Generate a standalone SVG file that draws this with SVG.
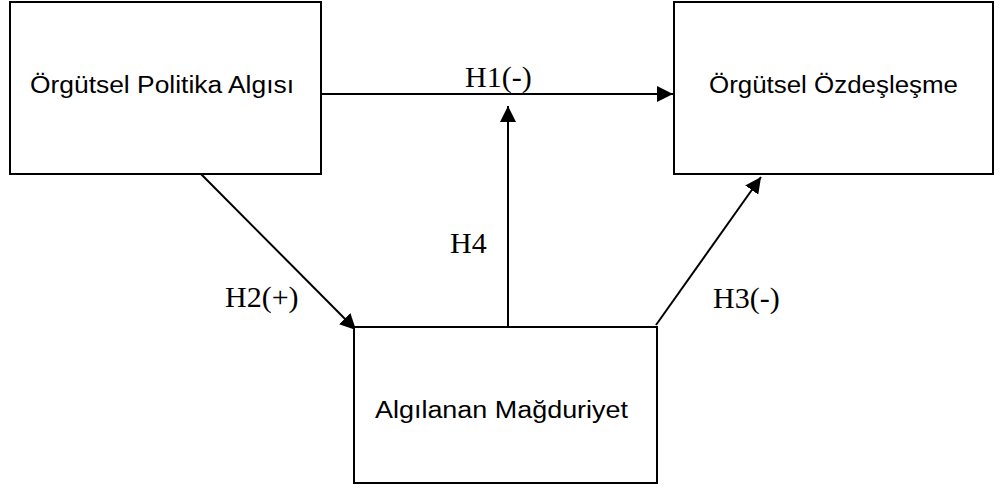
<svg xmlns="http://www.w3.org/2000/svg" width="1000" height="491" viewBox="0 0 1000 491">
<style>
.box{fill:#fff;stroke:#000;stroke-width:2}
.lbl{font-family:"Liberation Sans",Arial,sans-serif;font-size:23px;fill:#000}
.h{font-family:"Liberation Serif","Times New Roman",serif;font-size:30px;fill:#000}
.c{stroke:#000;stroke-width:2;fill:none;marker-end:url(#ah)}
</style>
<defs>
<marker id="ah" viewBox="0 0 10 10" refX="10" refY="5" markerWidth="8" markerHeight="8" markerUnits="strokeWidth" orient="auto">
<path d="M0,0 L10,5 L0,10 z" fill="#000"/>
</marker>
</defs>
<rect width="1000" height="491" fill="#fff"/>
<g id="connectors">
<line class="c" x1="319" y1="94" x2="673" y2="94"/>
<line class="c" x1="508" y1="327" x2="508" y2="106"/>
<line class="c" x1="199" y1="172" x2="356" y2="330"/>
<line class="c" x1="656" y1="325" x2="761" y2="177"/>
</g>
<g id="node-politika">
<rect class="box" x="10" y="2" width="311" height="172"/>
<text class="lbl" x="30" y="93" textLength="264" lengthAdjust="spacingAndGlyphs">Örgütsel Politika Algısı</text>
</g>
<g id="node-ozdeslesme">
<rect class="box" x="674" y="2" width="319" height="172"/>
<text class="lbl" x="709" y="93" textLength="249" lengthAdjust="spacingAndGlyphs">Örgütsel Özdeşleşme</text>
</g>
<g id="node-magduriyet">
<rect class="box" x="354" y="327" width="303" height="156"/>
<text class="lbl" x="375" y="418" textLength="253" lengthAdjust="spacingAndGlyphs">Algılanan Mağduriyet</text>
</g>
<g id="labels">
<text class="h" x="465" y="87">H1(-)</text>
<text class="h" x="450" y="253">H4</text>
<text class="h" x="225" y="307">H2(+)</text>
<text class="h" x="713" y="308">H3(-)</text>
</g>
</svg>
